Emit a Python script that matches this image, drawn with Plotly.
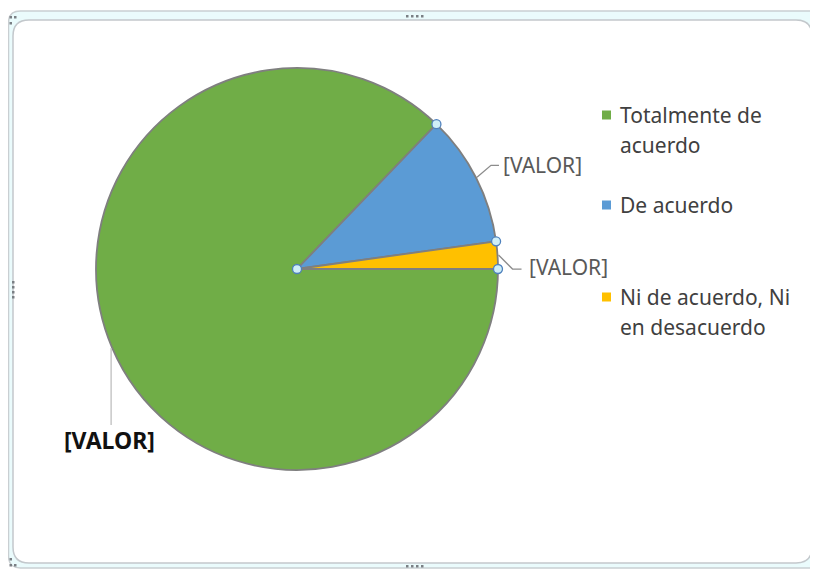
import math
import plotly.graph_objects as go

# ---------------- data ----------------
categories = ["Totalmente de acuerdo", "De acuerdo", "Ni de acuerdo, Ni en desacuerdo"]
legend_lines = [["Totalmente de", "acuerdo"], ["De acuerdo"], ["Ni de acuerdo, Ni", "en desacuerdo"]]
values = [87.2, 10.6, 2.2]
value_labels = ["[VALOR]", "[VALOR]", "[VALOR]"]
colors = ["#70AD47", "#5B9BD5", "#FFC000"]

# ---------------- layout geometry (pixels, page coordinates) ----------------
PAGE_W, PAGE_H = 818, 570
OFF = 8  # page body margin before the plot div
W, H = PAGE_W - OFF, PAGE_H - OFF
CX, CY, R = 297, 269, 201
FONT = "Noto Sans"


def px(x):
    return (x - OFF) / W


def py(y):
    return 1 - (y - OFF) / H


fig = go.Figure()

fig.add_trace(go.Pie(
    labels=categories,
    values=values,
    sort=False,
    direction="clockwise",
    rotation=90,
    textinfo="none",
    hoverinfo="label+percent",
    marker=dict(colors=colors, line=dict(color="#7F7F7F", width=1.8)),
    domain=dict(x=[px(CX - R), px(CX + R)], y=[py(CY + R), py(CY - R)]),
    showlegend=False,
))

shapes = []
annotations = []


def rrect(x0, y0, x1, y1, r):
    return (f"M {px(x0 + r)},{py(y0)} L {px(x1 - r)},{py(y0)} "
            f"Q {px(x1)},{py(y0)} {px(x1)},{py(y0 + r)} "
            f"L {px(x1)},{py(y1 - r)} Q {px(x1)},{py(y1)} {px(x1 - r)},{py(y1)} "
            f"L {px(x0 + r)},{py(y1)} Q {px(x0)},{py(y1)} {px(x0)},{py(y1 - r)} "
            f"L {px(x0)},{py(y0 + r)} Q {px(x0)},{py(y0)} {px(x0 + r)},{py(y0)} Z")


# chart-area frame (Excel selection look)
shapes.append(dict(type="path", xref="paper", yref="paper", path=rrect(8.5, 11, 826, 568, 12),
                   fillcolor="#EAFBFC", line=dict(color="#C9CFD2", width=1.5), layer="below"))
shapes.append(dict(type="path", xref="paper", yref="paper", path=rrect(13, 20, 812, 563, 16),
                   fillcolor="#FFFFFF", line=dict(color="#C3C8CC", width=1.5), layer="below"))


def grip(x, y):
    shapes.append(dict(type="rect", xref="paper", yref="paper",
                       x0=px(x), x1=px(x + 2.5), y0=py(y + 2.5), y1=py(y),
                       fillcolor="#7A7F84", line=dict(width=0)))


for gx in (406, 411, 416, 421):
    grip(gx, 15)
    grip(gx, 565)
for gy in (281, 286, 291, 296):
    grip(12, gy)
for (gx, gy) in [(9.5, 16), (14, 16), (9.5, 22), (9.5, 558), (9.5, 564), (14, 564)]:
    grip(gx, gy)

# ---------------- slice geometry from data ----------------
total = sum(values)
bounds = [0.0]
cum = 0.0
for v in values:
    cum += v
    bounds.append(-360.0 * cum / total)  # math angle (ccw from east), clockwise travel


def edge(theta, rr=R):
    t = math.radians(theta)
    return CX + rr * math.cos(t), CY - rr * math.sin(t)


label_style = [
    dict(ex=0, ey=77, tail=0, tx=-2, ty=92, anchor="center", bold=True),
    dict(ex=14, ey=-12, tail=8, tx=24, ty=-12, anchor="left", bold=False),
    dict(ex=14, ey=14, tail=9, tx=28, ty=12, anchor="left", bold=False),
]

for i, lab in enumerate(value_labels):
    mid = (bounds[i] + bounds[i + 1]) / 2
    ex0, ey0 = edge(mid, R + 1)
    st = label_style[i]
    x1, y1 = ex0 + st["ex"], ey0 + st["ey"]
    x2 = x1 + st["tail"]
    shapes.append(dict(type="path", xref="paper", yref="paper",
                       path=f"M {px(ex0)},{py(ey0)} L {px(x1)},{py(y1)} L {px(x2)},{py(y1)}",
                       line=dict(color="#8C8C8C" if i else "#BFBFBF", width=1.3)))
    annotations.append(dict(
        x=px(ex0 + st["tx"]), y=py(ey0 + st["ty"]), xref="paper", yref="paper",
        text=f"<b>{lab}</b>" if st["bold"] else lab, showarrow=False,
        xanchor=st["anchor"], yanchor="middle",
        font=dict(family=FONT, size=23 if st["bold"] else 21,
                  color="#111111" if st["bold"] else "#595959"),
    ))

handle_pts = [edge(b) for b in bounds[:-1]] + [(CX, CY)]
for (hx, hy) in handle_pts:
    shapes.append(dict(type="circle", xref="paper", yref="paper",
                       x0=px(hx - 4.5), x1=px(hx + 4.5), y0=py(hy + 4.5), y1=py(hy - 4.5),
                       fillcolor="#CFEFF7", line=dict(color="#4F81BD", width=1.3)))

# ---------------- legend (manual, Excel-like) ----------------
legend_y = [115, 205, 297]
LINE_H = 30
for i, lines in enumerate(legend_lines):
    y0 = legend_y[i]
    shapes.append(dict(type="rect", xref="paper", yref="paper",
                       x0=px(602), x1=px(611), y0=py(y0 + 4.5), y1=py(y0 - 4.5),
                       fillcolor=colors[i], line=dict(width=0)))
    for j, t in enumerate(lines):
        annotations.append(dict(
            x=px(618), y=py(y0 + j * LINE_H), xref="paper", yref="paper",
            text=t, showarrow=False, xanchor="left", yanchor="middle",
            font=dict(family=FONT, size=21, color="#404040"),
        ))

fig.update_layout(
    width=W, height=H,
    margin=dict(l=0, r=0, t=0, b=0),
    paper_bgcolor="white",
    plot_bgcolor="white",
    shapes=shapes,
    annotations=annotations,
    showlegend=False,
)

fig.write_html("out.html")
